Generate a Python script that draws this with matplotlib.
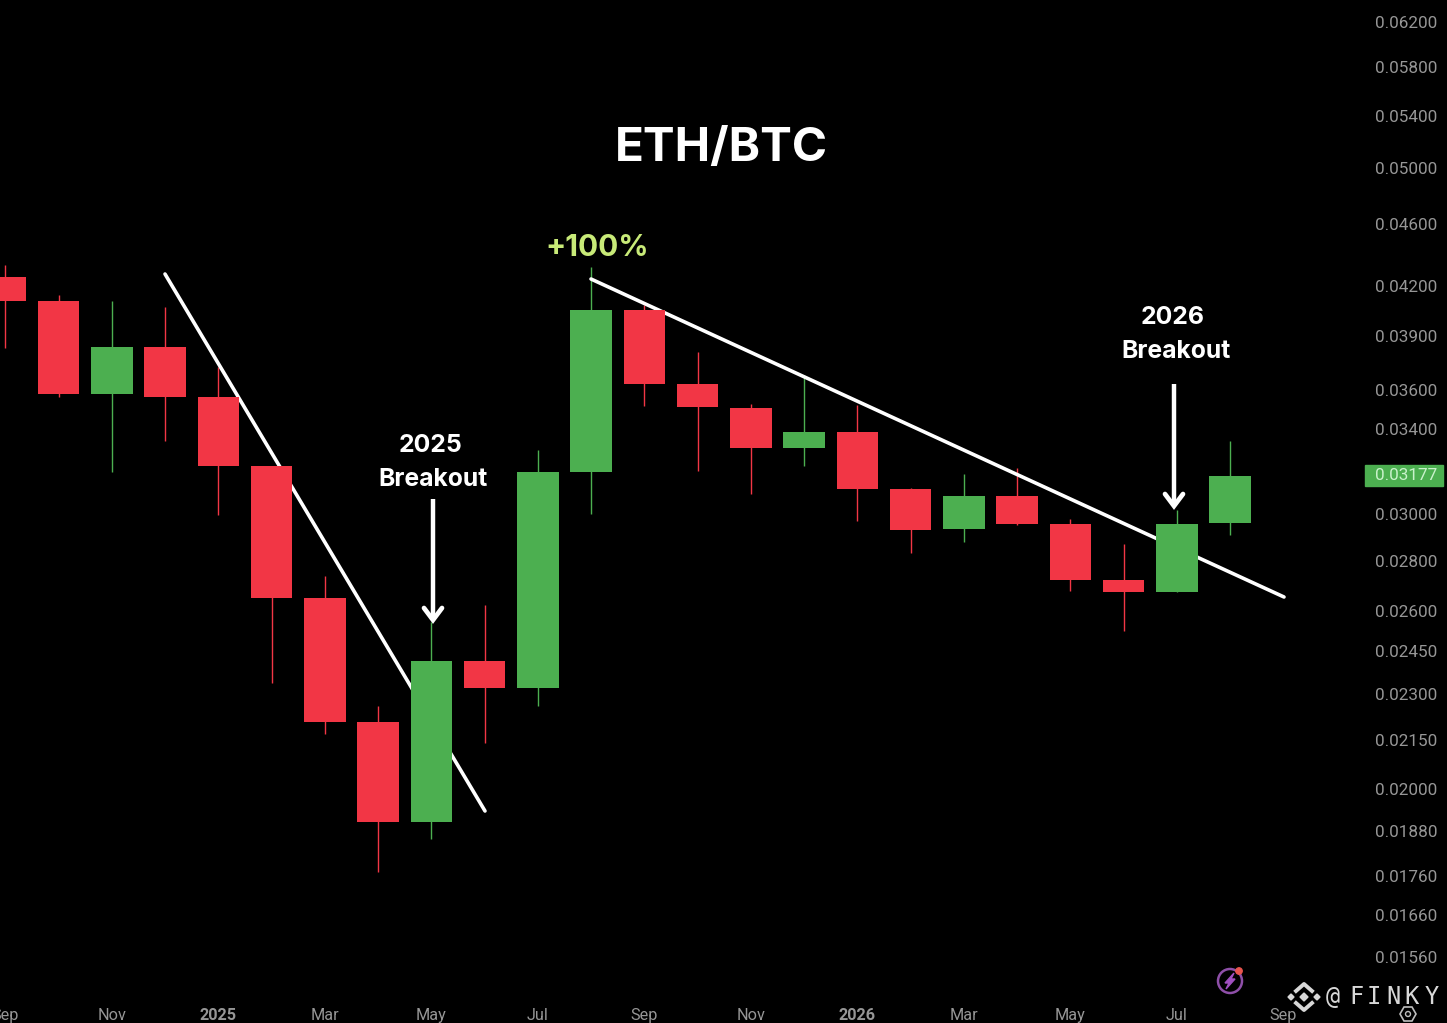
import matplotlib
matplotlib.use('Agg')
import matplotlib.pyplot as plt
import matplotlib.transforms as mtrans
from matplotlib.patches import Polygon, Circle, Rectangle

W, H = 1447, 1023

# monthly candles, Sep 2024 .. Aug 2026
opens = [.04256, .04108, .03581, .03838, .03566, .03220, .02651, .02208, .01905, .02416, .02321, .03192,
         .04054, .03635, .03508, .03307, .03386, .03113, .02935, .03081, .02957, .02722, .02674, .02961]
closes = [.04108, .03581, .03838, .03566, .03220, .02651, .02208, .01905, .02416, .02321, .03192, .04054,
          .03635, .03513, .03307, .03386, .03113, .02930, .03081, .02957, .02722, .02674, .02957, .03174]
highs = [.04332, .04144, .04108, .04072, .03727, .03220, .02738, .02260, .02559, .02624, .03297, .04319,
         .04084, .03810, .03529, .03683, .03524, .03118, .03183, .03211, .02978, .02871, .03018, .03341]
lows = [.03833, .03566, .03192, .03341, .02996, .02338, .02169, .01770, .01858, .02140, .02260, .03000,
        .03518, .03197, .03090, .03220, .02970, .02833, .02879, .02952, .02678, .02525, .02674, .02909]

y_ticks = [.062, .058, .054, .05, .046, .042, .039, .036, .034, .03, .028, .026, .0245, .023, .0215, .02,
           .0188, .0176, .0166, .0156]
x_tick_pos = [0, 2, 4, 6, 8, 10, 12, 14, 16, 18, 20, 22, 24]
x_tick_labels = ['Sep', 'Nov', '2025', 'Mar', 'May', 'Jul', 'Sep', 'Nov', '2026', 'Mar', 'May', 'Jul', 'Sep']
last_price = 0.03177

GREEN = '#4CAF50'
RED = '#F23645'
plt.rcParams['font.family'] = ['Roboto', 'DejaVu Sans']

fig = plt.figure(figsize=(W / 100, H / 100), dpi=100, facecolor='black')
ax = fig.add_axes([0, 0, 1, 1], facecolor='black')
ax.set_yscale('log')
ax.set_xlim(-0.1, 27.07)
ax.set_ylim(0.01416, 0.06404)
for s in ax.spines.values():
    s.set_visible(False)

for i in range(len(opens)):
    col = GREEN if closes[i] >= opens[i] else RED
    ax.vlines(i, lows[i], highs[i], color=col, lw=1.0, zorder=2)
    ax.bar(i, abs(closes[i] - opens[i]), bottom=min(opens[i], closes[i]), width=0.78, color=col, zorder=4)

ax.yaxis.tick_right()
ax.set_yticks(y_ticks)
ax.set_yticklabels(['%.5f' % v for v in y_ticks])
ax.minorticks_off()
ax.tick_params(axis='y', length=0, pad=-52, labelcolor='#969696', labelsize=12.3)
ax.set_xticks(x_tick_pos)
ax.set_xticklabels(x_tick_labels)
ax.tick_params(axis='x', length=0, pad=-11, labelcolor='#969696', labelsize=11.7)
for t in ax.get_xticklabels():
    if t.get_text().startswith('20'):
        t.set_fontweight('bold')

# everything below is placed in picture pixels, origin top left
px = mtrans.Affine2D().scale(1, -1).translate(0, H)

# last price tag
ax.add_patch(Rectangle((1365, 465), 78, 21, color=GREEN, transform=px, zorder=6))
ax.text(1406, 475.5, '%.5f' % last_price, color='#c9f2cb', fontsize=12.3, ha='center', va='center',
        zorder=7, transform=px)

ax.plot([165, 485], [274, 811], color='white', lw=2.6, transform=px, zorder=3, solid_capstyle='round')
ax.plot([591, 1284], [279, 597], color='white', lw=2.6, transform=px, zorder=3, solid_capstyle='round')

# arrows
for x, y0, y1 in [(433, 499, 620), (1174, 384, 506)]:
    ax.plot([x, x], [y0, y1 - 2], color='white', lw=3.2, transform=px, zorder=6, solid_capstyle='butt')
    ax.plot([x - 9, x, x + 9], [y1 - 12, y1, y1 - 12], color='white', lw=3.4, transform=px, zorder=6,
            solid_capstyle='round', solid_joinstyle='miter')


def label(x, y, s, size, color='white', weight='bold', family='Inter'):
    ax.text(x, y, s, color=color, fontsize=size, fontweight=weight, ha='center', va='center',
            transform=px, zorder=8, family=family)


label(721, 149, 'ETH/BTC', 34.3)
label(597, 248, '+100%', 21.5, color='#c8ea78')
label(430, 445, '2025', 17.8)
label(433, 479, 'Breakout', 17.8)
label(1173, 317, '2026', 17.8)
label(1176, 351, 'Breakout', 17.8)

# watermark, logo and small icons
for cx, cy, r in [(1291, 997, 3), (1317, 997, 3), (1304, 997, 4)]:
    ax.add_patch(Polygon([(cx - r, cy), (cx, cy - r), (cx + r, cy), (cx, cy + r)], color='#d8d8d8',
                         transform=px, zorder=8))
ax.plot([1296, 1304, 1312], [991, 984, 991], color='#d8d8d8', lw=2.8, transform=px, zorder=8)
ax.plot([1296, 1304, 1312], [1003, 1010, 1003], color='#d8d8d8', lw=2.8, transform=px, zorder=8)
for x, ch in zip([1333, 1356, 1374, 1393, 1412, 1432], '@FINKY'):
    label(x, 997, ch, 17, color='#d8d8d8', weight='normal', family='DejaVu Sans Mono')

ax.add_patch(Circle((1230, 981), 12, fill=False, ec='#8e4fa8', lw=1.8, transform=px, zorder=8))
ax.add_patch(Circle((1239, 971), 3.2, color='#e8554e', transform=px, zorder=9))
ax.add_patch(Polygon([(1234, 973), (1225, 983), (1229, 983), (1226, 989), (1235, 979), (1231, 979)],
                     color='#a04fc0', transform=px, zorder=8))
ax.add_patch(Polygon([(1400, 1014), (1404, 1007), (1412, 1007), (1416, 1014), (1412, 1021), (1404, 1021)],
                     fill=False, ec='#bdbdbd', lw=1.2, transform=px, zorder=8))
ax.add_patch(Circle((1408, 1014), 2.5, fill=False, ec='#bdbdbd', lw=1.0, transform=px, zorder=8))

fig.savefig('out.png', dpi=100, facecolor='black')
